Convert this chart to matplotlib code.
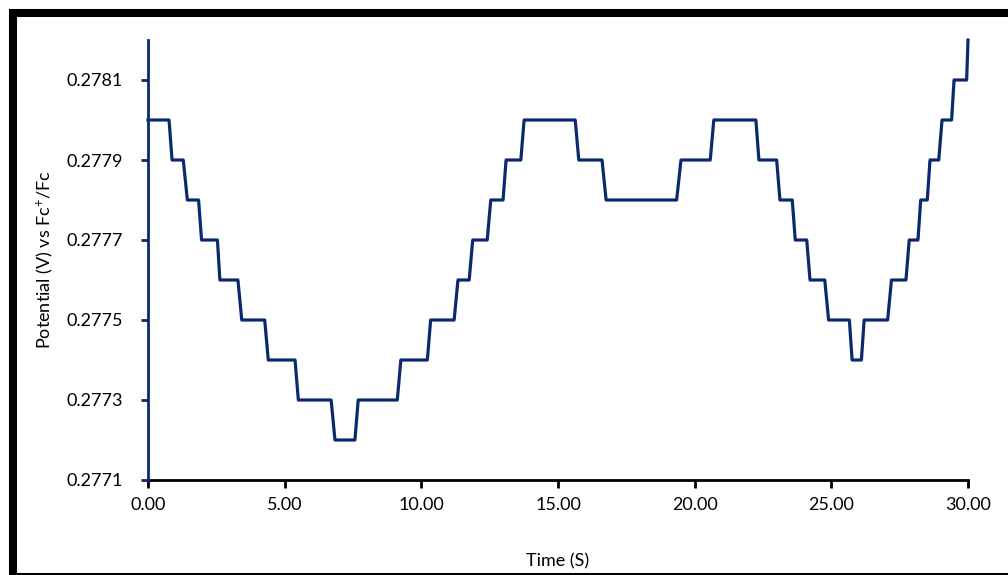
import matplotlib
matplotlib.use("Agg")
import matplotlib.pyplot as plt
from matplotlib.lines import Line2D
from matplotlib.ticker import FormatStrFormatter

plt.rcParams['font.family'] = ['Lato', 'DejaVu Sans']
plt.rcParams['mathtext.fontset'] = 'custom'
plt.rcParams['mathtext.rm'] = 'Lato'
plt.rcParams['mathtext.default'] = 'regular'

# plateaus of the staircase: level (V), time it starts, time it ends (s)
levels = [0.2780, 0.2779, 0.2778, 0.2777, 0.2776, 0.2775, 0.2774, 0.2773,
          0.2772, 0.2773, 0.2774, 0.2775, 0.2776, 0.2777, 0.2778, 0.2779,
          0.2780, 0.2779, 0.2778, 0.2779, 0.2780, 0.2779, 0.2778, 0.2777,
          0.2776, 0.2775, 0.2774, 0.2775, 0.2776, 0.2777, 0.2778, 0.2779,
          0.2780, 0.2781, 0.2782]
t_start = [0.00, 0.88, 1.44, 1.96, 2.63, 3.43, 4.40, 5.50,
           6.84, 7.69, 9.25, 10.34, 11.34, 11.88, 12.54, 13.10,
           13.76, 15.76, 16.76, 19.50, 20.70, 22.35, 23.12, 23.68,
           24.22, 24.90, 25.76, 26.20, 27.20, 27.85, 28.27, 28.61,
           29.05, 29.49, 30.00]
t_end = [0.77, 1.29, 1.85, 2.54, 3.29, 4.27, 5.38, 6.70,
         7.57, 9.12, 10.22, 11.20, 11.75, 12.41, 12.99, 13.64,
         15.63, 16.61, 19.34, 20.57, 22.24, 23.00, 23.57, 24.10,
         24.76, 25.66, 26.10, 27.06, 27.73, 28.17, 28.51, 28.93,
         29.40, 29.95, 30.00]

xticks = [0, 5, 10, 15, 20, 25, 30]
yticks = [0.2771, 0.2773, 0.2775, 0.2777, 0.2779, 0.2781]

t = []
v = []
for lv, a, b in zip(levels, t_start, t_end):
    t += [a, b]
    v += [lv, lv]

navy = '#0b2a6e'

fig = plt.figure(figsize=(10.08, 5.75), dpi=100)
ax = fig.add_axes([148/1008, 1-480/575, 820/1008, 440/575])
ax.plot(t, v, color=navy, lw=2.3, clip_on=False, solid_joinstyle='round')

ax.set_xlim(0, 30)
ax.set_ylim(0.2771, 0.2782)
ax.set_xticks(xticks)
ax.set_yticks(yticks)
ax.xaxis.set_major_formatter(FormatStrFormatter('%.2f'))
ax.yaxis.set_major_formatter(FormatStrFormatter('%.4f'))

for s in ['top', 'right']:
    ax.spines[s].set_visible(False)
ax.spines['bottom'].set_color('black')
ax.spines['bottom'].set_linewidth(2)
ax.spines['left'].set_color(navy)
ax.spines['left'].set_linewidth(2)
ax.spines['left'].set_zorder(3)
ax.tick_params(axis='x', direction='out', length=6, width=2, color='black',
               labelsize=13, pad=6)
ax.tick_params(axis='y', direction='out', length=5, width=2, color=navy,
               labelsize=13, pad=13)

ax.set_xlabel('Time (S)', fontsize=13, labelpad=29)
ax.set_ylabel('Potential (V) vs Fc$^{+}$/Fc', fontsize=13, labelpad=8)

# frame around the picture
fig.add_artist(Line2D([12.5/1008, 12.5/1008], [0, 1-9/575], transform=fig.transFigure,
                      color='black', lw=5.8, solid_capstyle='butt'))
fig.add_artist(Line2D([9/1008, 1], [1-13/575, 1-13/575], transform=fig.transFigure,
                      color='black', lw=5.8, solid_capstyle='butt'))
fig.add_artist(Line2D([9/1008, 1], [1.5/575, 1.5/575], transform=fig.transFigure,
                      color='black', lw=2.2, solid_capstyle='butt'))

fig.savefig('out.png', dpi=100)
